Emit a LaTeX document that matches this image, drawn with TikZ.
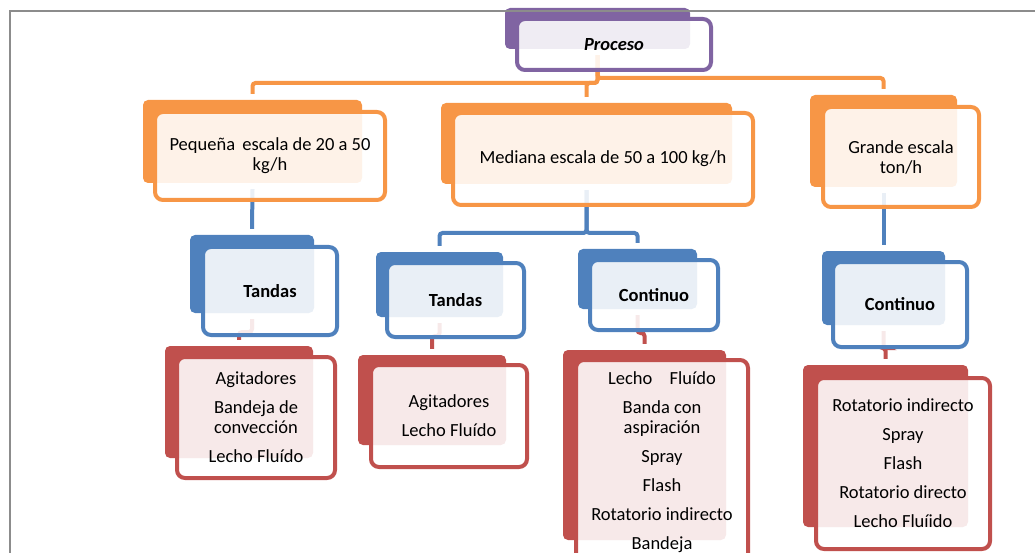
\documentclass[tikz,border=0pt]{standalone}
\usepackage{fontspec}
\setmainfont{Carlito}
\definecolor{orng}{HTML}{F79646}
\definecolor{blu}{HTML}{4F81BD}
\definecolor{rd}{HTML}{C0504D}
\definecolor{purp}{HTML}{8064A2}
\definecolor{framegray}{HTML}{8C8C8C}
\pgfdeclarelayer{bg}
\pgfsetlayers{bg,main}
\begin{document}
\begin{tikzpicture}[x=1pt,y=-1pt,
  back/.style={fill=#1,rounded corners=5pt,inner sep=0pt},
  front/.style={draw=#1,fill=white,fill opacity=.88,text opacity=1,line width=4pt,
    rounded corners=8pt,inner sep=0pt,align=center,font=\fontsize{18.5}{20}\selectfont},
  conn/.style={draw=#1,line width=4pt,rounded corners=3pt}]
  \useasboundingbox (0,0) rectangle (1035,553);

  % level 0
  \node[back=purp,minimum width=185pt,minimum height=41pt] (1b) at (597.5,28.5) {};
  \node[front=purp,minimum width=194pt,minimum height=51pt] (1) at (614,44.5) {\bfseries\itshape Proceso};

  % level 1
  \node[back=orng,minimum width=219pt,minimum height=83pt] (2b) at (252.5,141.5) {};
  \node[front=orng,minimum width=230pt,minimum height=88pt] (2) at (270,156) {Pequeña\hspace{3pt} escala de 20 a 50\\kg/h};
  \node[back=orng,minimum width=291pt,minimum height=81pt] (3b) at (586.5,143.5) {};
  \node[front=orng,minimum width=300pt,minimum height=92pt] (3) at (603,159) {Mediana escala de 50 a 100 kg/h};
  \node[back=orng,minimum width=147pt,minimum height=92pt] (4b) at (883.5,141) {};
  \node[front=orng,minimum width=156pt,minimum height=100pt] (4) at (901,157) {Grande escala\\ton/h};

  % level 2
  \node[back=blu,minimum width=124pt,minimum height=78pt] (5b) at (252,274) {};
  \node[front=blu,minimum width=134pt,minimum height=88pt] (5) at (270,291) {\bfseries Tandas};
  \node[back=blu,minimum width=127pt,minimum height=65pt] (6b) at (439.5,284.5) {};
  \node[front=blu,minimum width=137pt,minimum height=74pt] (6) at (455.5,300) {\bfseries Tandas};
  \node[back=blu,minimum width=119pt,minimum height=60pt] (7b) at (637.5,279) {};
  \node[front=blu,minimum width=128pt,minimum height=70pt] (7) at (654,295) {\bfseries Continuo};
  \node[back=blu,minimum width=123pt,minimum height=74pt] (8b) at (883.5,288) {};
  \node[front=blu,minimum width=134pt,minimum height=85pt] (8) at (900,304.5) {\bfseries Continuo};

  % level 3
  \node[back=rd,minimum width=148pt,minimum height=112pt] (9b) at (239,402) {};
  \node[front=rd,minimum width=158pt,minimum height=121pt] (9) at (256,417.5)
    {Agitadores\\[9pt]Bandeja de\\convección\\[9pt]Lecho Fluído};
  \node[back=rd,minimum width=148pt,minimum height=90pt] (10b) at (432,400) {};
  \node[front=rd,minimum width=156pt,minimum height=102pt] (10) at (449,416)
    {Agitadores\\[9pt]Lecho Fluído};
  \node[back=rd,minimum width=163pt,minimum height=190pt] (11b) at (644.5,445) {};
  \node[front=rd,minimum width=172pt,minimum height=204pt] (11) at (662,462)
    {Lecho\hspace{13pt} Fluído\\[9pt]Banda con\\aspiración\\[9pt]Spray\\[9pt]Flash\\[9pt]Rotatorio indirecto\\[9pt]Bandeja};
  \node[back=rd,minimum width=165pt,minimum height=162pt] (12b) at (885.5,446) {};
  \node[front=rd,minimum width=174pt,minimum height=171pt] (12) at (903,463.5)
    {Rotatorio indirecto\\[9pt]Spray\\[9pt]Flash\\[9pt]Rotatorio directo\\[9pt]Lecho Fluíido};

  \begin{pgfonlayer}{bg}
    \draw[conn=orng] ([yshift=-6pt]1b.south) -- (1b.south |- 0,83) -| ([yshift=6pt]2b.north);
    \draw[conn=orng] ([yshift=-6pt]1b.south) -- (1b.south |- 0,83) -| ([yshift=6pt]3b.north);
    \draw[conn=orng] ([yshift=-6pt]1b.south) -- (1b.south |- 0,78) -| ([yshift=6pt]4b.north);
    \draw[conn=blu] ([yshift=-6pt]2b.south) -- ([yshift=6pt]5b.north);
    \draw[conn=blu] ([yshift=-6pt]3b.south) -- (3b.south |- 0,233) -| ([yshift=6pt]6b.north);
    \draw[conn=blu] ([yshift=-6pt]3b.south) -- (3b.south |- 0,233) -| ([yshift=6pt]7b.north);
    \draw[conn=blu] ([yshift=-6pt]4b.south) -- ([yshift=6pt]8b.north);
    \draw[conn=rd] ([yshift=-6pt]5b.south) -- (5b.south |- 0,332) -| ([yshift=6pt]9b.north);
    \draw[conn=rd] ([yshift=-6pt]6b.south) -- (6b.south |- 0,336) -| ([yshift=6pt]10b.north);
    \draw[conn=rd] ([yshift=-6pt]7b.south) -- (7b.south |- 0,333) -| ([yshift=6pt]11b.north);
    \draw[conn=rd] ([yshift=-6pt]8b.south) -- (8b.south |- 0,348) -| ([yshift=6pt]12b.north);
  \end{pgfonlayer}

  % page frame
  \draw[framegray,line width=2pt] (1035,11) -- (9.5,11) -- (9.5,553);
\end{tikzpicture}
\end{document}
